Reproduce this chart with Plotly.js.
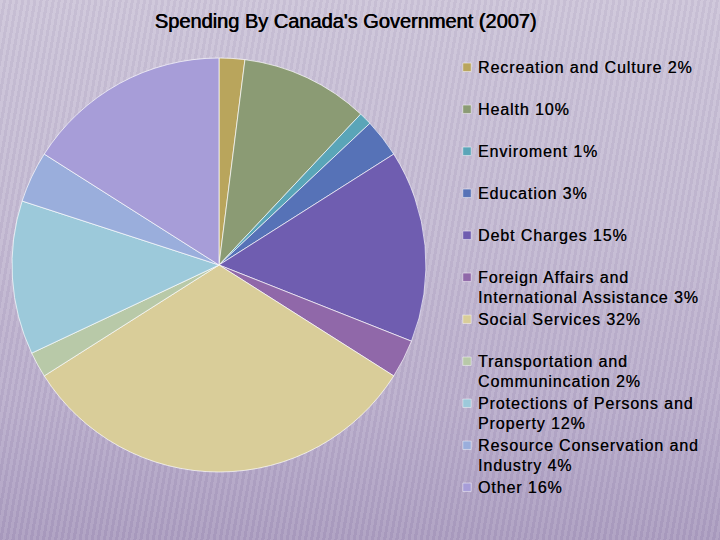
<!DOCTYPE html>
<html>
<head>
<meta charset="utf-8">
<script src="https://cdn.plot.ly/plotly-3.0.1.min.js"></script>
<style>
html, body { margin: 0; padding: 0; }
body {
  width: 720px; height: 540px; overflow: hidden;
  background:
    repeating-linear-gradient(100deg, rgba(255,255,255,0.07) 0px, rgba(255,255,255,0.07) 3px, rgba(90,70,120,0.05) 3px, rgba(90,70,120,0.05) 6px),
    linear-gradient(to bottom, #cdc5d9 0%, #cac2d7 10%, #c3b9d2 45%, #b9adcb 75%, #ab9dc0 100%);
}
#chart { width: 720px; height: 540px; }
.legendpoints path { transform: translate(29px, 0px) scale(0.7); }
</style>
</head>
<body>
<div id="chart"></div>
<script>
// Each category is a list of legend text lines
const categories = [
  ["Recreation and Culture 2%"],
  ["Health 10%"],
  ["Enviroment 1%"],
  ["Education 3%"],
  ["Debt Charges 15%"],
  ["Foreign Affairs and", "International Assistance 3%"],
  ["Social Services 32%"],
  ["Transportation and", "Communincation 2%"],
  ["Protections of Persons and", "Property 12%"],
  ["Resource Conservation and", "Industry 4%"],
  ["Other 16%"]
];
const values = [2, 10, 1, 3, 15, 3, 32, 2, 12, 4, 16];
const colors = ["#b9a55c", "#8b9b74", "#5aa5b8", "#5672b7", "#6f5db0", "#9068a9",
                "#d9cd99", "#b8c9a8", "#9cc9da", "#9aaedc", "#a79dd8"];

const spanStyle = "font-size:16px;letter-spacing:0.9px";
const labels = categories.map(lines => {
  const parts = lines.map(l => `<span style="${spanStyle}">${l}</span>`);
  if (parts.length === 1) parts.push("&nbsp;");
  return parts.join("<br>");
});

const W = 720, H = 540;
const cx = 219, cy = 265, R = 207;

const trace = {
  type: "pie",
  labels: labels,
  values: values,
  sort: false,
  direction: "clockwise",
  rotation: 0,
  textinfo: "none",
  hoverinfo: "skip",
  marker: { colors: colors, line: { color: "rgba(255,255,255,0.85)", width: 0.8 } },
  domain: { x: [(cx - R) / W, (cx + R) / W], y: [(H - cy - R) / H, (H - cy + R) / H] }
};

const layout = {
  width: W, height: H,
  margin: { l: 0, r: 0, t: 0, b: 0 },
  paper_bgcolor: "rgba(0,0,0,0)",
  plot_bgcolor: "rgba(0,0,0,0)",
  title: {
    text: "Spending By Canada's Government (2007)",
    font: { family: "Liberation Sans, Arial, sans-serif", size: 20, color: "#000",
            shadow: "0.6px 0px 0px #000" },
    x: 345.5 / W, xanchor: "center", y: 1 - 21 / H, yanchor: "middle"
  },
  showlegend: true,
  legend: {
    x: 438 / W, xanchor: "left",
    y: 1 - 51 / H, yanchor: "top",
    valign: "top",
    bgcolor: "rgba(0,0,0,0)",
    borderwidth: 0,
    font: { family: "Liberation Sans, Arial, sans-serif", size: 15, color: "#000",
            shadow: "0.3px 0px 0px rgba(0,0,0,0.7)" }
  }
};

Plotly.newPlot("chart", [trace], layout, { displayModeBar: false, staticPlot: true });
</script>
</body>
</html>
